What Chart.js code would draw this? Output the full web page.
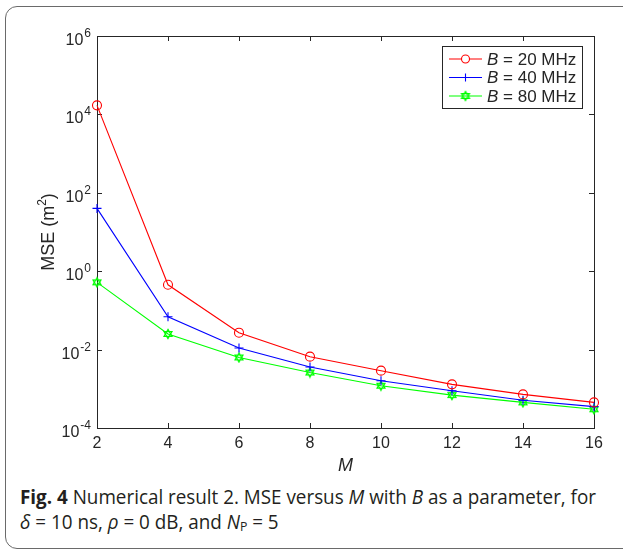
<!DOCTYPE html>
<html>
<head>
<meta charset="utf-8">
<script src="https://cdn.jsdelivr.net/npm/chart.js@4.4.1/dist/chart.umd.min.js"></script>
<style>
  body { margin: 0; background: #fff; width: 623px; height: 551px; overflow: hidden; position: relative; }
  #frame { position: absolute; left: 5px; top: 6px; width: 650px; height: 541px; border: 1.5px solid #6a6a6a; border-radius: 12px; }
  #wrap { position: absolute; left: 0; top: 0; width: 623px; height: 480px; }
  .cap { position: absolute; left: 20px; font-family: 'Open Sans', sans-serif; font-size: 20px; color: #231f20; white-space: nowrap; transform-origin: 0 0; }
  .cap b { font-weight: 700; }
  .cap sub { font-size: 13px; vertical-align: -2px; }
</style>
</head>
<body>
<div id="frame"></div>
<div id="wrap"><canvas id="mse-chart" width="623" height="480"></canvas></div>
<div class="cap" id="cap1" style="top:483px"><b>Fig. 4</b> Numerical result 2. MSE versus <i>M</i> with <i>B</i> as a parameter, for</div>
<div class="cap" id="cap2" style="top:508px"><i>δ</i> = 10 ns, <i>ρ</i> = 0 dB, and <i>N</i><sub>P</sub> = 5</div>

<script>
// data
const mValues = [2, 4, 6, 8, 10, 12, 14, 16];
const mse20 = [1.7e4, 0.45, 0.027, 0.0066, 0.0029, 0.0013, 0.00072, 0.00045];
const mse40 = [40, 0.069, 0.011, 0.0036, 0.0016, 0.00089, 0.00051, 0.00035];
const mse80 = [0.52, 0.025, 0.0063, 0.0026, 0.0012, 0.00069, 0.00045, 0.0003];
const xTicks = [2, 4, 6, 8, 10, 12, 14, 16];
const yTickExps = [-4, -2, 0, 2, 4, 6];
const seriesNames = ['20 MHz', '40 MHz', '80 MHz'];

const axisColor = '#262626';
const sans = '"Liberation Sans", Arial, sans-serif';

// six pointed star marker for the 80 MHz curve
function hexagram(color) {
  const c = document.createElement('canvas');
  c.width = 12; c.height = 12;
  const g = c.getContext('2d');
  g.strokeStyle = color;
  g.lineWidth = 1.2;
  for (let k = 0; k < 2; k++) {
    g.beginPath();
    for (let i = 0; i < 3; i++) {
      const a = -Math.PI / 2 + k * Math.PI + i * 2 * Math.PI / 3;
      const px = 6 + 4.6 * Math.cos(a), py = 6 + 4.6 * Math.sin(a);
      if (i === 0) g.moveTo(px, py); else g.lineTo(px, py);
    }
    g.closePath();
    g.stroke();
  }
  return c;
}
const starImg = hexagram('#00ff00');

function makeSet(name, values, color, style) {
  return {
    label: name,
    data: values.map((v, i) => ({ x: mValues[i], y: v })),
    borderColor: color,
    backgroundColor: 'transparent',
    borderWidth: 1.1,
    pointStyle: style,
    pointRadius: 4.5,
    pointBorderWidth: 1.1,
    pointBorderColor: color,
    pointBackgroundColor: 'transparent',
    clip: false,
    tension: 0
  };
}

const datasets = [
  makeSet(seriesNames[0], mse20, '#ff0000', 'circle'),
  makeSet(seriesNames[1], mse40, '#0000ff', 'cross'),
  makeSet(seriesNames[2], mse80, '#00ff00', starImg)
];

// axes box, inward ticks, labels and legend in MATLAB style
const matlabAxes = {
  id: 'matlabAxes',
  beforeDatasetsDraw(chart) {
    const { ctx, chartArea: a, scales } = chart;
    ctx.save();
    ctx.strokeStyle = axisColor;
    ctx.lineWidth = 1;
    ctx.strokeRect(a.left + 0.5, a.top + 0.5, a.right - a.left, a.bottom - a.top);
    ctx.beginPath();
    xTicks.forEach(t => {
      const x = Math.round(scales.x.getPixelForValue(t)) + 0.5;
      ctx.moveTo(x, a.bottom); ctx.lineTo(x, a.bottom - 5);
      ctx.moveTo(x, a.top); ctx.lineTo(x, a.top + 5);
    });
    yTickExps.forEach(e => {
      const y = Math.round(scales.y.getPixelForValue(Math.pow(10, e))) + 0.5;
      ctx.moveTo(a.left, y); ctx.lineTo(a.left + 5, y);
      ctx.moveTo(a.right, y); ctx.lineTo(a.right - 5, y);
    });
    ctx.stroke();
    ctx.restore();
  },
  afterDraw(chart) {
    const { ctx, chartArea: a, scales } = chart;
    ctx.save();
    ctx.fillStyle = axisColor;

    // x tick labels
    ctx.font = '16px ' + sans;
    ctx.textAlign = 'center';
    ctx.textBaseline = 'alphabetic';
    xTicks.forEach(t => {
      ctx.fillText(String(t), scales.x.getPixelForValue(t), a.bottom + 20);
    });

    // y tick labels as 10^n
    yTickExps.forEach(e => {
      const y = scales.y.getPixelForValue(Math.pow(10, e));
      const ex = String(e);
      ctx.font = '12px ' + sans;
      const ew = ctx.measureText(ex).width;
      ctx.textAlign = 'right';
      ctx.textBaseline = 'alphabetic';
      ctx.fillText(ex, a.left - 6, y + 1);
      ctx.font = '16px ' + sans;
      ctx.fillText('10', a.left - 7 - ew, y + 9);
    });

    // axis titles
    ctx.font = 'italic 18px ' + sans;
    ctx.textAlign = 'center';
    ctx.textBaseline = 'alphabetic';
    ctx.fillText('M', (a.left + a.right) / 2, a.bottom + 43);

    ctx.save();
    ctx.translate(54, (a.top + a.bottom) / 2);
    ctx.rotate(-Math.PI / 2);
    ctx.textAlign = 'left';
    const t1 = 'MSE (m', t2 = ')';
    ctx.font = '18px ' + sans;
    const w1 = ctx.measureText(t1).width, w3 = ctx.measureText(t2).width;
    ctx.font = '12px ' + sans;
    const w2 = ctx.measureText('2').width;
    const x0 = -(w1 + w2 + w3) / 2;
    ctx.font = '18px ' + sans;
    ctx.fillText(t1, x0, 0);
    ctx.font = '12px ' + sans;
    ctx.fillText('2', x0 + w1, -8);
    ctx.font = '18px ' + sans;
    ctx.fillText(t2, x0 + w1 + w2, 0);
    ctx.restore();

    // legend box
    const bw = 140, bh = 62;
    const bx = a.right - 12 - bw, by = a.top + 10;
    ctx.fillStyle = '#fff';
    ctx.fillRect(bx, by, bw, bh);
    ctx.strokeStyle = axisColor;
    ctx.lineWidth = 1;
    ctx.strokeRect(bx + 0.5, by + 0.5, bw, bh);
    chart.data.datasets.forEach((ds, i) => {
      const yy = by + 13 + i * 18.5;
      ctx.strokeStyle = ds.borderColor;
      ctx.lineWidth = 1.1;
      ctx.beginPath();
      ctx.moveTo(bx + 7, yy); ctx.lineTo(bx + 40, yy);
      ctx.stroke();
      Chart.helpers.drawPoint(ctx, { pointStyle: ds.pointStyle, radius: 4, rotation: 0, borderWidth: 1.1 }, bx + 23.5, yy);
      ctx.fillStyle = axisColor;
      ctx.textAlign = 'left';
      ctx.textBaseline = 'middle';
      ctx.font = 'italic 17px ' + sans;
      ctx.fillText('B', bx + 45, yy + 1);
      const bwid = ctx.measureText('B').width;
      ctx.font = '17px ' + sans;
      ctx.fillText(' = ' + ds.label, bx + 45 + bwid, yy + 1);
    });
    ctx.restore();
  }
};

const ctx = document.getElementById('mse-chart').getContext('2d');
new Chart(ctx, {
  type: 'line',
  data: { datasets: datasets },
  options: {
    responsive: false,
    animation: false,
    layout: { padding: { left: 97, right: 29, top: 36, bottom: 52 } },
    plugins: { legend: { display: false }, tooltip: { enabled: false } },
    scales: {
      x: { type: 'linear', min: 2, max: 16, display: false },
      y: { type: 'logarithmic', min: 1e-4, max: 1e6, display: false }
    }
  },
  plugins: [matlabAxes]
});

// squeeze the caption to the width of the original condensed face
const c1 = document.getElementById('cap1'), c2 = document.getElementById('cap2');
const sx = 576 / c1.getBoundingClientRect().width;
c1.style.transform = 'scaleX(' + sx + ')';
c2.style.transform = 'scaleX(' + sx + ')';
</script>
</body>
</html>
